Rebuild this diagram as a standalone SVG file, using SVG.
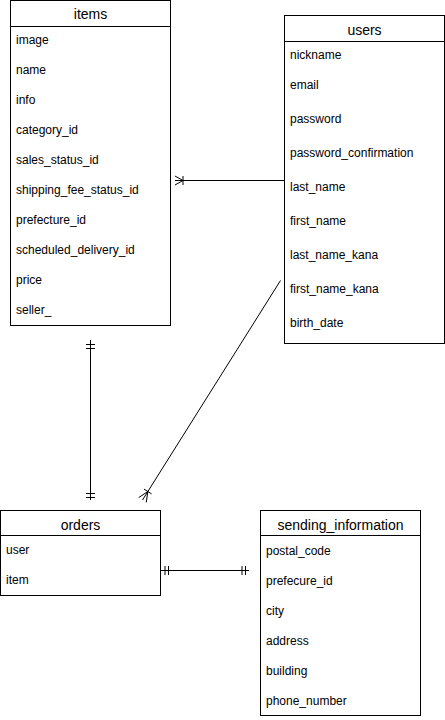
<svg xmlns="http://www.w3.org/2000/svg" width="445" height="720" viewBox="0 0 445 720">
<style>
.box{fill:#fff;stroke:#000;stroke-width:1}
.sep{stroke:#000;stroke-width:1}
.title{font-family:"Liberation Sans",Arial,sans-serif;font-size:14px;fill:#000;text-anchor:middle}
.row{font-family:"Liberation Sans",Arial,sans-serif;font-size:12px;fill:#000}
.edge{fill:none;stroke:#000;stroke-width:1}
</style>
<rect width="445" height="720" fill="#fff"/>
<g id="connectors">
  <g id="users-items">
    <path class="edge" d="M284,180.5 H175"/>
    <path class="edge" d="M175,176 L183,180.5 L175,185 M183,176 V185"/>
  </g>
  <g id="items-orders">
    <path class="edge" d="M90.5,340 V500"/>
    <path class="edge" d="M86,344.5 H95 M86,348.5 H95 M86,493.5 H95 M86,497.5 H95"/>
  </g>
  <g id="users-orders">
    <path class="edge" d="M280.5,280.5 L142.5,500"/>
    <path class="edge" d="M138.7,497.6 L147.8,491.5 L146.3,502.4 M144,489.1 L151.6,493.9"/>
  </g>
  <g id="orders-sending">
    <path class="edge" d="M160,570.5 H249"/>
    <path class="edge" d="M165,566 V575 M168.5,566 V575 M242,566 V575 M245.5,566 V575"/>
  </g>
</g>
<g id="items">
  <rect class="box" x="10.5" y="0.5" width="160" height="325"/>
  <line class="sep" x1="10.5" y1="26.5" x2="170.5" y2="26.5"/>
  <text class="title" x="90.5" y="19">items</text>
  <text class="row" x="16" y="44">image</text>
  <text class="row" x="16" y="74">name</text>
  <text class="row" x="16" y="104">info</text>
  <text class="row" x="16" y="134">category_id</text>
  <text class="row" x="16" y="164">sales_status_id</text>
  <text class="row" x="16" y="194">shipping_fee_status_id</text>
  <text class="row" x="16" y="224">prefecture_id</text>
  <text class="row" x="16" y="254">scheduled_delivery_id</text>
  <text class="row" x="16" y="284">price</text>
  <text class="row" x="16" y="314">seller_</text>
</g>
<g id="users">
  <rect class="box" x="284.5" y="15.5" width="160" height="328"/>
  <line class="sep" x1="284.5" y1="41.5" x2="444.5" y2="41.5"/>
  <text class="title" x="364.5" y="34.5">users</text>
  <text class="row" x="290" y="59">nickname</text>
  <text class="row" x="290" y="89">email</text>
  <text class="row" x="290" y="123">password</text>
  <text class="row" x="290" y="157">password_confirmation</text>
  <text class="row" x="290" y="191">last_name</text>
  <text class="row" x="290" y="225">first_name</text>
  <text class="row" x="290" y="259">last_name_kana</text>
  <text class="row" x="290" y="293">first_name_kana</text>
  <text class="row" x="290" y="327">birth_date</text>
</g>
<g id="orders">
  <rect class="box" x="0.5" y="510.5" width="160" height="85"/>
  <line class="sep" x1="0.5" y1="535.5" x2="160.5" y2="535.5"/>
  <text class="title" x="80.5" y="529.5">orders</text>
  <text class="row" x="6" y="553.5">user</text>
  <text class="row" x="6" y="583.5">item</text>
</g>
<g id="sending_information">
  <rect class="box" x="260.5" y="510.5" width="160" height="205"/>
  <line class="sep" x1="260.5" y1="535.5" x2="420.5" y2="535.5"/>
  <text class="title" x="340.5" y="529.5">sending_information</text>
  <text class="row" x="266" y="554.5">postal_code</text>
  <text class="row" x="266" y="584.5">prefecure_id</text>
  <text class="row" x="266" y="614.5">city</text>
  <text class="row" x="266" y="644.5">address</text>
  <text class="row" x="266" y="674.5">building</text>
  <text class="row" x="266" y="704.5">phone_number</text>
</g>
</svg>
